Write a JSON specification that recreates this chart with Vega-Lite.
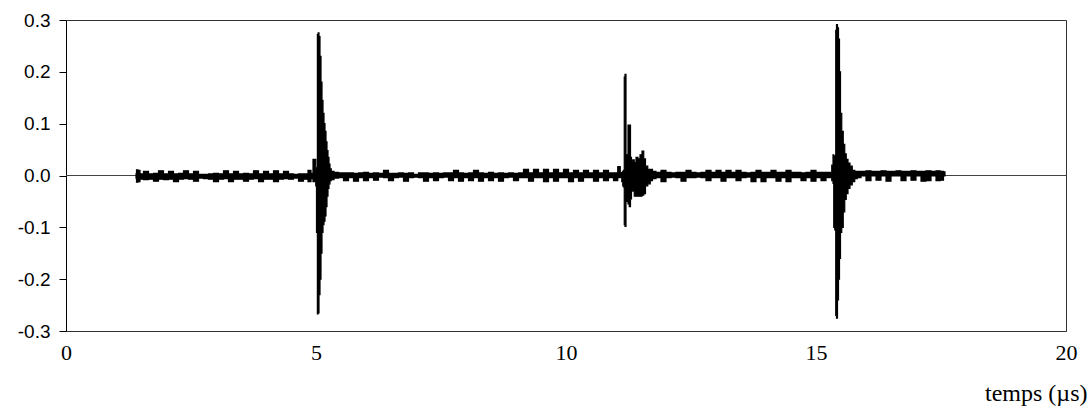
{
  "$schema": "https://vega.github.io/schema/vega-lite/v6.json",
  "autosize": {"type": "none"},
  "width": 1000,
  "height": 311,
  "padding": {"left": 66, "top": 20, "right": 25, "bottom": 77},
  "background": "white",
  "config": {"view": {"stroke": "#333", "strokeWidth": 1}},
  "data": {"values": [
    {"t":1.40,"lo":-0.005,"hi":0.003},{"t":1.42,"lo":-0.013,"hi":0.011},{"t":1.46,"lo":-0.012,"hi":0.010},{"t":1.50,"lo":-0.007,"hi":0.003},
    {"t":1.60,"lo":-0.008,"hi":0.008},{"t":1.70,"lo":-0.007,"hi":0.003},{"t":1.80,"lo":-0.011,"hi":0.004},{"t":1.90,"lo":-0.007,"hi":0.009},
    {"t":2.00,"lo":-0.008,"hi":0.003},{"t":2.10,"lo":-0.007,"hi":0.008},{"t":2.20,"lo":-0.012,"hi":0.003},{"t":2.30,"lo":-0.007,"hi":0.004},
    {"t":2.40,"lo":-0.006,"hi":0.009},{"t":2.50,"lo":-0.007,"hi":0.003},{"t":2.60,"lo":-0.011,"hi":0.008},{"t":2.70,"lo":-0.005,"hi":0.002},
    {"t":2.80,"lo":-0.006,"hi":0.002},{"t":2.90,"lo":-0.007,"hi":0.003},{"t":3.00,"lo":-0.012,"hi":0.004},{"t":3.10,"lo":-0.007,"hi":0.003},
    {"t":3.20,"lo":-0.006,"hi":0.009},{"t":3.30,"lo":-0.012,"hi":0.003},{"t":3.40,"lo":-0.007,"hi":0.008},{"t":3.50,"lo":-0.007,"hi":0.003},
    {"t":3.60,"lo":-0.011,"hi":0.004},{"t":3.70,"lo":-0.007,"hi":0.003},{"t":3.80,"lo":-0.006,"hi":0.009},{"t":3.90,"lo":-0.012,"hi":0.003},
    {"t":4.00,"lo":-0.007,"hi":0.008},{"t":4.10,"lo":-0.007,"hi":0.003},{"t":4.20,"lo":-0.012,"hi":0.009},{"t":4.30,"lo":-0.007,"hi":0.003},
    {"t":4.40,"lo":-0.006,"hi":0.008},{"t":4.50,"lo":-0.007,"hi":0.003},{"t":4.60,"lo":-0.005,"hi":0.002},{"t":4.70,"lo":-0.011,"hi":0.003},
    {"t":4.80,"lo":-0.007,"hi":0.003},{"t":4.88,"lo":-0.012,"hi":0.010},{"t":4.92,"lo":-0.006,"hi":0.004},
    {"t":4.96,"lo":-0.012,"hi":0.031},{"t":4.99,"lo":-0.012,"hi":0.031},{"t":5.00,"lo":-0.020,"hi":0.010},{"t":5.02,"lo":-0.110,"hi":0.015},
    {"t":5.035,"lo":-0.267,"hi":0.272},{"t":5.05,"lo":-0.265,"hi":0.275},{"t":5.07,"lo":-0.230,"hi":0.268},{"t":5.09,"lo":-0.200,"hi":0.230},
    {"t":5.11,"lo":-0.150,"hi":0.180},{"t":5.13,"lo":-0.110,"hi":0.145},{"t":5.15,"lo":-0.095,"hi":0.120},{"t":5.17,"lo":-0.088,"hi":0.100},
    {"t":5.19,"lo":-0.078,"hi":0.085},{"t":5.21,"lo":-0.060,"hi":0.065},{"t":5.23,"lo":-0.040,"hi":0.048},{"t":5.25,"lo":-0.025,"hi":0.035},
    {"t":5.27,"lo":-0.016,"hi":0.022},{"t":5.29,"lo":-0.010,"hi":0.013},{"t":5.32,"lo":-0.008,"hi":0.008},
    {"t":5.40,"lo":-0.005,"hi":0.006},{"t":5.50,"lo":-0.004,"hi":0.005},{"t":5.60,"lo":-0.010,"hi":0.005},{"t":5.70,"lo":-0.004,"hi":0.005},
    {"t":5.80,"lo":-0.011,"hi":0.004},{"t":5.90,"lo":-0.004,"hi":0.005},{"t":6.00,"lo":-0.010,"hi":0.006},{"t":6.10,"lo":-0.004,"hi":0.004},
    {"t":6.20,"lo":-0.009,"hi":0.005},{"t":6.30,"lo":-0.003,"hi":0.004},{"t":6.40,"lo":-0.004,"hi":0.010},{"t":6.50,"lo":-0.010,"hi":0.004},
    {"t":6.60,"lo":-0.004,"hi":0.004},{"t":6.70,"lo":-0.003,"hi":0.005},{"t":6.80,"lo":-0.011,"hi":0.004},{"t":6.90,"lo":-0.004,"hi":0.005},
    {"t":7.00,"lo":-0.003,"hi":0.002},{"t":7.10,"lo":-0.004,"hi":0.005},{"t":7.20,"lo":-0.011,"hi":0.005},{"t":7.30,"lo":-0.004,"hi":0.004},
    {"t":7.40,"lo":-0.010,"hi":0.005},{"t":7.50,"lo":-0.004,"hi":0.004},{"t":7.60,"lo":-0.003,"hi":0.005},{"t":7.70,"lo":-0.010,"hi":0.005},
    {"t":7.80,"lo":-0.004,"hi":0.010},{"t":7.90,"lo":-0.011,"hi":0.005},{"t":8.00,"lo":-0.004,"hi":0.004},{"t":8.10,"lo":-0.010,"hi":0.005},
    {"t":8.20,"lo":-0.004,"hi":0.010},{"t":8.30,"lo":-0.011,"hi":0.005},{"t":8.40,"lo":-0.004,"hi":0.004},{"t":8.50,"lo":-0.010,"hi":0.006},
    {"t":8.60,"lo":-0.004,"hi":0.004},{"t":8.70,"lo":-0.011,"hi":0.005},{"t":8.80,"lo":-0.004,"hi":0.004},{"t":8.90,"lo":-0.003,"hi":0.005},
    {"t":9.00,"lo":-0.010,"hi":0.004},{"t":9.10,"lo":-0.004,"hi":0.005},{"t":9.20,"lo":-0.004,"hi":0.012},{"t":9.30,"lo":-0.011,"hi":0.005},
    {"t":9.40,"lo":-0.004,"hi":0.012},{"t":9.50,"lo":-0.004,"hi":0.005},{"t":9.60,"lo":-0.012,"hi":0.012},{"t":9.70,"lo":-0.004,"hi":0.005},
    {"t":9.80,"lo":-0.011,"hi":0.012},{"t":9.90,"lo":-0.004,"hi":0.005},{"t":10.00,"lo":-0.004,"hi":0.012},{"t":10.10,"lo":-0.012,"hi":0.005},
    {"t":10.20,"lo":-0.004,"hi":0.010},{"t":10.30,"lo":-0.011,"hi":0.005},{"t":10.40,"lo":-0.004,"hi":0.010},{"t":10.50,"lo":-0.004,"hi":0.005},
    {"t":10.60,"lo":-0.011,"hi":0.010},{"t":10.70,"lo":-0.004,"hi":0.005},{"t":10.80,"lo":-0.010,"hi":0.010},{"t":10.90,"lo":-0.004,"hi":0.005},
    {"t":11.00,"lo":-0.010,"hi":0.005},{"t":11.07,"lo":-0.004,"hi":0.017},
    {"t":11.10,"lo":-0.003,"hi":0.005},{"t":11.13,"lo":-0.012,"hi":0.006},{"t":11.14,"lo":-0.020,"hi":0.008},{"t":11.16,"lo":-0.022,"hi":0.010},
    {"t":11.17,"lo":-0.095,"hi":0.190},{"t":11.19,"lo":-0.098,"hi":0.195},{"t":11.21,"lo":-0.050,"hi":0.040},{"t":11.23,"lo":-0.045,"hi":0.035},
    {"t":11.25,"lo":-0.055,"hi":0.097},{"t":11.28,"lo":-0.060,"hi":0.097},{"t":11.30,"lo":-0.045,"hi":0.035},{"t":11.32,"lo":-0.025,"hi":0.025},
    {"t":11.35,"lo":-0.030,"hi":0.030},{"t":11.38,"lo":-0.040,"hi":0.025},{"t":11.42,"lo":-0.040,"hi":0.035},{"t":11.46,"lo":-0.040,"hi":0.032},
    {"t":11.50,"lo":-0.040,"hi":0.040},{"t":11.54,"lo":-0.038,"hi":0.047},{"t":11.57,"lo":-0.035,"hi":0.032},{"t":11.61,"lo":-0.020,"hi":0.018},
    {"t":11.66,"lo":-0.016,"hi":0.012},{"t":11.71,"lo":-0.010,"hi":0.012},
    {"t":11.75,"lo":-0.006,"hi":0.008},{"t":11.85,"lo":-0.004,"hi":0.006},{"t":11.95,"lo":-0.012,"hi":0.010},{"t":12.05,"lo":-0.004,"hi":0.006},
    {"t":12.15,"lo":-0.003,"hi":0.005},{"t":12.25,"lo":-0.004,"hi":0.006},{"t":12.35,"lo":-0.011,"hi":0.006},{"t":12.45,"lo":-0.004,"hi":0.010},
    {"t":12.55,"lo":-0.004,"hi":0.006},{"t":12.65,"lo":-0.003,"hi":0.005},{"t":12.75,"lo":-0.004,"hi":0.006},{"t":12.85,"lo":-0.010,"hi":0.010},
    {"t":12.95,"lo":-0.004,"hi":0.006},{"t":13.05,"lo":-0.004,"hi":0.010},{"t":13.15,"lo":-0.011,"hi":0.006},{"t":13.25,"lo":-0.004,"hi":0.010},
    {"t":13.35,"lo":-0.004,"hi":0.006},{"t":13.45,"lo":-0.010,"hi":0.010},{"t":13.55,"lo":-0.004,"hi":0.006},{"t":13.65,"lo":-0.003,"hi":0.005},
    {"t":13.75,"lo":-0.012,"hi":0.006},{"t":13.85,"lo":-0.004,"hi":0.010},{"t":13.95,"lo":-0.012,"hi":0.006},{"t":14.05,"lo":-0.004,"hi":0.006},
    {"t":14.15,"lo":-0.004,"hi":0.010},{"t":14.25,"lo":-0.011,"hi":0.006},{"t":14.35,"lo":-0.004,"hi":0.006},{"t":14.45,"lo":-0.012,"hi":0.010},
    {"t":14.55,"lo":-0.004,"hi":0.006},{"t":14.65,"lo":-0.004,"hi":0.006},{"t":14.75,"lo":-0.010,"hi":0.005},{"t":14.85,"lo":-0.004,"hi":0.006},
    {"t":14.95,"lo":-0.011,"hi":0.010},{"t":15.05,"lo":-0.004,"hi":0.006},{"t":15.15,"lo":-0.010,"hi":0.006},{"t":15.25,"lo":-0.004,"hi":0.006},
    {"t":15.30,"lo":-0.004,"hi":0.006},{"t":15.33,"lo":-0.010,"hi":0.020},{"t":15.35,"lo":-0.015,"hi":0.040},{"t":15.36,"lo":-0.100,"hi":0.038},
    {"t":15.39,"lo":-0.105,"hi":0.030},{"t":15.40,"lo":-0.270,"hi":0.280},{"t":15.42,"lo":-0.275,"hi":0.291},{"t":15.44,"lo":-0.240,"hi":0.285},
    {"t":15.46,"lo":-0.200,"hi":0.263},{"t":15.48,"lo":-0.160,"hi":0.200},{"t":15.50,"lo":-0.110,"hi":0.120},{"t":15.53,"lo":-0.100,"hi":0.085},
    {"t":15.56,"lo":-0.070,"hi":0.060},{"t":15.59,"lo":-0.046,"hi":0.042},{"t":15.62,"lo":-0.035,"hi":0.031},{"t":15.66,"lo":-0.025,"hi":0.024},
    {"t":15.70,"lo":-0.018,"hi":0.018},{"t":15.75,"lo":-0.012,"hi":0.010},{"t":15.80,"lo":-0.006,"hi":0.008},
    {"t":15.85,"lo":-0.004,"hi":0.008},{"t":15.95,"lo":-0.001,"hi":0.008},{"t":16.05,"lo":-0.010,"hi":0.009},{"t":16.15,"lo":-0.001,"hi":0.008},
    {"t":16.25,"lo":-0.009,"hi":0.008},{"t":16.35,"lo":-0.001,"hi":0.009},{"t":16.45,"lo":-0.011,"hi":0.008},{"t":16.55,"lo":-0.001,"hi":0.008},
    {"t":16.65,"lo":-0.001,"hi":0.009},{"t":16.75,"lo":-0.010,"hi":0.008},{"t":16.85,"lo":-0.001,"hi":0.008},{"t":16.95,"lo":-0.009,"hi":0.009},
    {"t":17.05,"lo":-0.001,"hi":0.008},{"t":17.15,"lo":-0.011,"hi":0.008},{"t":17.25,"lo":-0.010,"hi":0.009},{"t":17.35,"lo":-0.001,"hi":0.008},
    {"t":17.45,"lo":-0.010,"hi":0.009},{"t":17.52,"lo":-0.009,"hi":0.008},{"t":17.58,"lo":-0.001,"hi":0.007}
  ]},
  "encoding": {
    "x": {
      "field": "t", "type": "quantitative",
      "scale": {"domain": [0, 20], "nice": false, "zero": false},
      "axis": {
        "values": [0, 5, 10, 15, 20], "format": "d", "grid": false, "ticks": false,
        "domainColor": "#333", "labelFont": "Liberation Serif", "labelFontSize": 22, "labelColor": "black",
        "labelPadding": 11, "labelFlush": false,
        "title": "temps (µs)", "titleFont": "Liberation Serif", "titleFontSize": 24, "titleFontWeight": "normal",
        "titleColor": "black", "titleX": 1021, "titleY": 69, "titleAlign": "right", "titleBaseline": "alphabetic", "titleAnchor": null
      }
    }
  },
  "layer": [
    {
      "mark": {"type": "rule", "color": "#444", "strokeWidth": 1},
      "encoding": {"y": {"datum": 0, "type": "quantitative"}, "x": null}
    },
    {
      "mark": {"type": "area", "color": "black", "stroke": "black", "strokeWidth": 1.2, "interpolate": "step"},
      "encoding": {
        "y": {
          "field": "hi", "type": "quantitative",
          "scale": {"domain": [-0.3, 0.3], "nice": false, "zero": false},
          "axis": {
            "values": [-0.3, -0.2, -0.1, 0, 0.1, 0.2, 0.3], "grid": false, "title": null,
            "labelExpr": "datum.value < 0 ? '-' + format(-datum.value, '.1f') : format(datum.value, '.1f')",
            "labelFont": "Liberation Sans", "labelFontSize": 19, "labelColor": "black",
            "tickSize": 7, "tickColor": "black", "domainColor": "black", "labelPadding": 9
          }
        },
        "y2": {"field": "lo"}
      }
    }
  ]
}
